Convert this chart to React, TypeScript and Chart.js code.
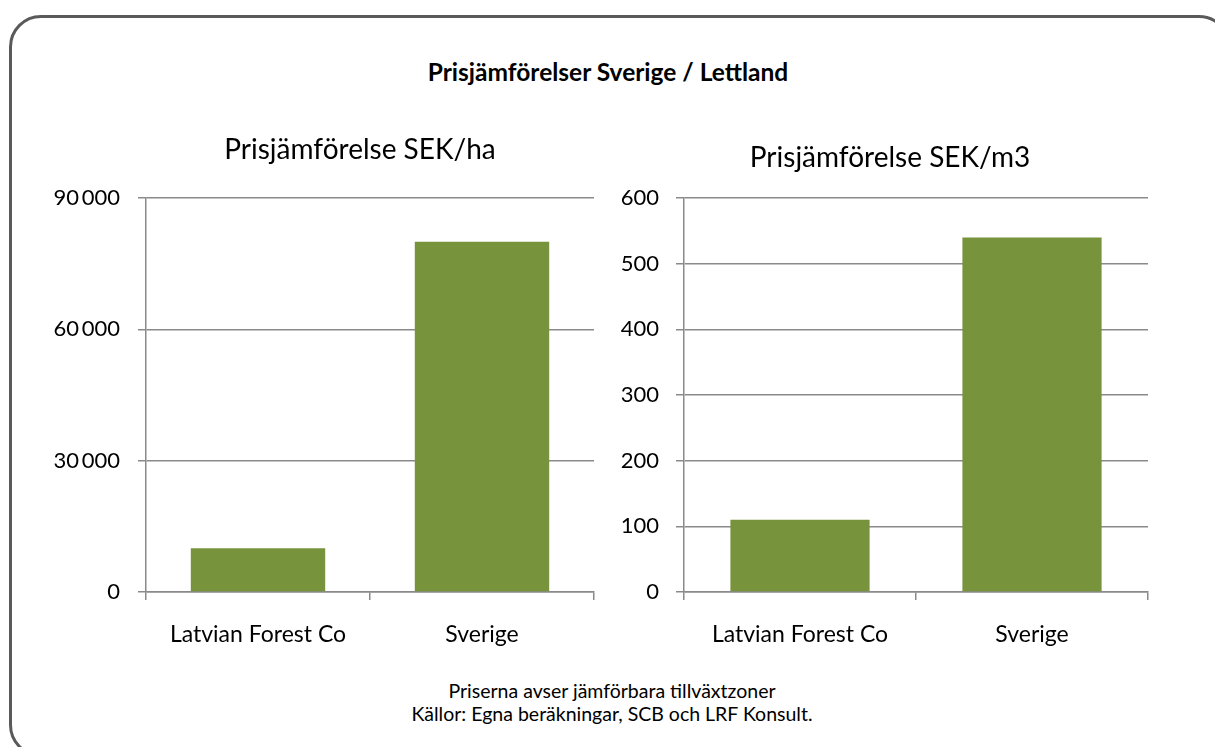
import React, { useEffect, useRef } from "react";
import { Chart, registerables } from "chart.js";

Chart.register(...registerables);

const categories = ["Latvian Forest Co", "Sverige"];
const perHaValues = [10000, 80000];
const perM3Values = [110, 540];
const perHaTicks = [0, 30000, 60000, 90000];
const perM3Ticks = [0, 100, 200, 300, 400, 500, 600];

const mainTitle = "Prisjämförelser Sverige / Lettland";
const leftTitle = "Prisjämförelse SEK/ha";
const rightTitle = "Prisjämförelse SEK/m3";
const footer1 = "Priserna avser jämförbara tillväxtzoner";
const footer2 = "Källor: Egna beräkningar, SCB och LRF Konsult.";

const FONT = "Lato, 'Open Sans', sans-serif";
const GREEN = "#77933C";
const GRID = "#8a8a8a";

function fmt(v: number) {
  const s = String(Math.round(v));
  return s.replace(/\B(?=(\d{3})+(?!\d))/g, "\u2009");
}

// Draws the chart's own title above the plot area, shifted from the plot centre.
const chartTitlePlugin = {
  id: "chartTitle",
  afterDraw(chart: any, _args: any, opts: any) {
    if (!opts || !opts.text) return;
    const ca = chart.chartArea;
    const ctx = chart.ctx;
    ctx.save();
    ctx.font = `normal ${opts.size}px ${FONT}`;
    ctx.fillStyle = "#000";
    ctx.textAlign = "center";
    ctx.textBaseline = "middle";
    const x = (ca.left + ca.right) / 2 + opts.dx;
    const y = ca.top - opts.dy;
    ctx.fillText(opts.text, x, y);
    ctx.restore();
  },
};

function makeConfig(
  title: string,
  values: number[],
  max: number,
  step: number,
  yWidth: number,
  padRight: number,
  titleDx: number,
  titleDy: number,
  tickPad: number
): any {
  return {
    type: "bar",
    data: {
      labels: categories,
      datasets: [
        {
          data: values,
          backgroundColor: GREEN,
          borderWidth: 0,
          barPercentage: 0.6,
          categoryPercentage: 1,
        },
      ],
    },
    plugins: [chartTitlePlugin],
    options: {
      responsive: false,
      animation: false,
      layout: { padding: { left: 0, right: padRight, top: 88, bottom: 0 } },
      plugins: {
        legend: { display: false },
        tooltip: { enabled: false },
        title: { display: false },
        chartTitle: { text: title, size: 28, dx: titleDx, dy: titleDy },
      },
      scales: {
        x: {
          afterFit: (s: any) => {
            s.height = 78;
          },
          grid: {
            drawOnChartArea: false,
            drawTicks: true,
            tickLength: 8,
            color: GRID,
            lineWidth: 1.5,
            offset: true,
          },
          border: { display: true, color: GRID, width: 1.5 },
          ticks: {
            color: "#000",
            font: { family: FONT, size: 23 },
            padding: 21,
          },
        },
        y: {
          min: 0,
          max: max,
          afterFit: (s: any) => {
            s.width = yWidth;
          },
          grid: {
            drawOnChartArea: true,
            drawTicks: true,
            tickLength: 8,
            color: GRID,
            lineWidth: 1.5,
          },
          border: { display: true, color: GRID, width: 1.5 },
          ticks: {
            stepSize: step,
            color: "#000",
            font: { family: FONT, size: 22 },
            padding: tickPad,
            callback: (v: any) => fmt(Number(v)),
          },
        },
      },
    },
  };
}

function BarChart(props: {
  left: number;
  top: number;
  width: number;
  height: number;
  config: any;
}) {
  const ref = useRef<HTMLCanvasElement | null>(null);
  useEffect(() => {
    if (!ref.current) return;
    const c = new Chart(ref.current, props.config);
    return () => c.destroy();
  }, []);
  return (
    <canvas
      ref={ref}
      width={props.width}
      height={props.height}
      style={{
        position: "absolute",
        left: props.left,
        top: props.top,
        width: props.width,
        height: props.height,
      }}
    />
  );
}

export default function App() {
  const leftCfg = makeConfig(
    leftTitle,
    perHaValues,
    perHaTicks[perHaTicks.length - 1],
    perHaTicks[1] - perHaTicks[0],
    126,
    16,
    -10,
    48,
    18
  );
  const rightCfg = makeConfig(
    rightTitle,
    perM3Values,
    perM3Ticks[perM3Ticks.length - 1],
    perM3Ticks[1] - perM3Ticks[0],
    64,
    32,
    -26,
    40,
    17
  );
  return (
    <div
      style={{
        position: "fixed",
        left: 0,
        top: 0,
        width: 1215,
        height: 747,
        overflow: "hidden",
        background: "#fff",
        fontFamily: FONT,
      }}
    >
      <div
        style={{
          position: "absolute",
          left: 9,
          top: 15,
          width: 1222,
          height: 742,
          border: "3px solid #5a5a5a",
          borderRadius: 32,
          boxSizing: "border-box",
        }}
      />
      <div
        style={{
          position: "absolute",
          left: 0,
          width: 1216,
          top: 57,
          textAlign: "center",
          fontWeight: "bold",
          fontSize: 24.5,
          lineHeight: "30px",
          color: "#000",
        }}
      >
        {mainTitle}
      </div>
      <BarChart left={20} top={110} width={590} height={560} config={leftCfg} />
      <BarChart left={620} top={110} width={560} height={560} config={rightCfg} />
      <div
        style={{
          position: "absolute",
          left: 0,
          width: 1224,
          top: 679,
          textAlign: "center",
          fontSize: 19.5,
          lineHeight: "23px",
          color: "#000",
        }}
      >
        <div>{footer1}</div>
        <div>{footer2}</div>
      </div>
    </div>
  );
}
